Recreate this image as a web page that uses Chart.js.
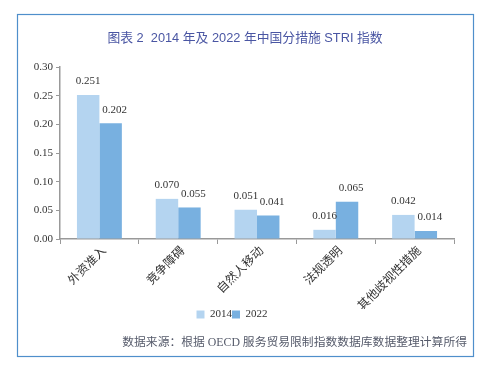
<!DOCTYPE html>
<html>
<head>
<meta charset="utf-8">
<script src="https://cdn.jsdelivr.net/npm/chart.js@4/dist/chart.umd.min.js"></script>
<style>
  html, body { margin: 0; padding: 0; background: #fff; }
  #wrap { width: 489px; height: 373px; }
</style>
</head>
<body>
<div id="wrap"><canvas id="bar-chart" width="489" height="373"></canvas></div>
<script>
const categories = ['外资准入', '竞争障碍', '自然人移动', '法规透明', '其他歧视性措施'];
const values2014 = [0.251, 0.070, 0.051, 0.016, 0.042];
const values2022 = [0.202, 0.055, 0.041, 0.065, 0.014];
const yTicks = [0, 0.05, 0.10, 0.15, 0.20, 0.25, 0.30];

const titleText = '图表 2  2014 年及 2022 年中国分措施 STRI 指数';
const sourceText = '数据来源：根据 OECD 服务贸易限制指数数据库数据整理计算所得';

const serif = '"Liberation Serif", "Times New Roman", "Noto Sans CJK SC", serif';
const cjk = '"Liberation Serif", "Noto Sans CJK SC", serif';

// frame, title, source note and value labels
const extras = {
  id: 'extras',
  beforeDraw(chart) {
    const ctx = chart.ctx;
    ctx.save();
    ctx.fillStyle = '#fff';
    ctx.fillRect(0, 0, chart.width, chart.height);
    ctx.strokeStyle = '#4f8fcb';
    ctx.lineWidth = 1.2;
    ctx.strokeRect(17.5, 14.5, 456, 342);
    ctx.font = '12.8px "Liberation Sans", Arial, "Noto Sans CJK SC", sans-serif';
    ctx.fillStyle = '#4a56a3';
    ctx.textAlign = 'center';
    ctx.textBaseline = 'middle';
    ctx.fillText(titleText, 245, 38);
    ctx.restore();
  },
  afterDatasetsDraw(chart) {
    const ctx = chart.ctx;
    ctx.save();
    ctx.font = '11px ' + serif;
    ctx.fillStyle = '#333';
    ctx.textAlign = 'center';
    ctx.textBaseline = 'bottom';
    chart.data.datasets.forEach((ds, i) => {
      chart.getDatasetMeta(i).data.forEach((bar, j) => {
        ctx.fillText(ds.data[j].toFixed(3), bar.x + (i === 1 ? 4 : 0), bar.y - 8);
      });
    });
    ctx.font = '11.8px ' + cjk;
    ctx.fillStyle = '#555a6a';
    ctx.textAlign = 'right';
    ctx.textBaseline = 'middle';
    ctx.fillText(sourceText, 467, 343);
    ctx.restore();
  }
};

new Chart(document.getElementById('bar-chart'), {
  type: 'bar',
  data: {
    labels: categories,
    datasets: [
      { label: '2014', data: values2014, backgroundColor: '#b4d4f0', barPercentage: 1, categoryPercentage: 0.57 },
      { label: '2022', data: values2022, backgroundColor: '#78b0e0', barPercentage: 1, categoryPercentage: 0.57 }
    ]
  },
  options: {
    responsive: false,
    animation: false,
    layout: { padding: { top: 67, left: 10, right: 35, bottom: 43 } },
    plugins: {
      title: { display: false },
      legend: {
        position: 'bottom',
        labels: {
          boxWidth: 8, boxHeight: 8, padding: 0,
          color: '#333',
          font: { family: serif, size: 11 }
        }
      },
      tooltip: { enabled: false }
    },
    scales: {
      x: {
        afterFit(scale) { scale.height = 70; },
        grid: { drawOnChartArea: false, drawTicks: true, tickLength: 5, offset: true, color: '#999' },
        border: { color: '#999', width: 1.5 },
        ticks: { minRotation: 45, maxRotation: 45, padding: 0, labelOffset: 5, color: '#333', font: { family: cjk, size: 12 } }
      },
      y: {
        min: 0, max: 0.3,
        afterFit(scale) { scale.width = 50; },
        afterBuildTicks(scale) { scale.ticks = yTicks.map(v => ({ value: v })); },
        grid: { drawOnChartArea: false, drawTicks: true, tickLength: 4, color: '#999' },
        border: { color: '#999', width: 1.5 },
        ticks: { padding: 3, color: '#333', font: { family: serif, size: 11 }, callback: v => v.toFixed(2) }
      }
    }
  },
  plugins: [extras]
});
</script>
</body>
</html>
